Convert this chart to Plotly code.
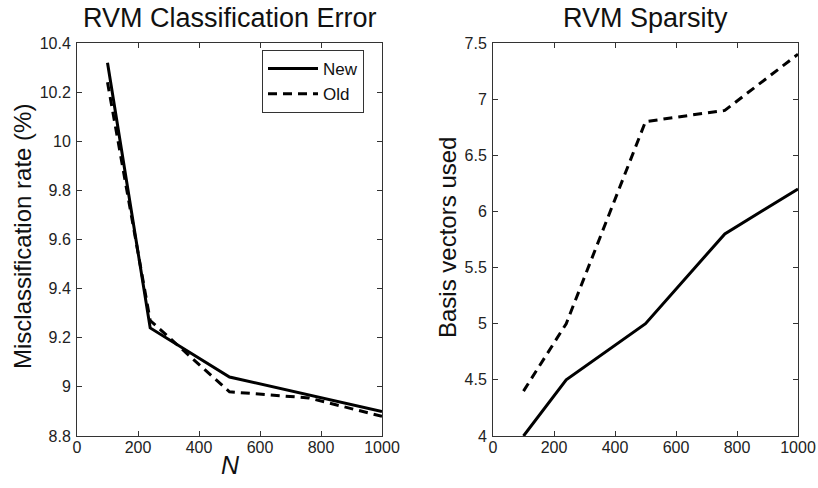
import plotly.graph_objects as go

N = [100, 240, 500, 760, 1000]
err_new = [10.32, 9.24, 9.04, 8.967, 8.90]
err_old = [10.24, 9.27, 8.98, 8.955, 8.88]
bv_new = [4.0, 4.5, 5.0, 5.8, 6.2]
bv_old = [4.4, 5.0, 6.8, 6.9, 7.4]

W, H = 818, 488
font = 'Arial, "Liberation Sans", sans-serif'

fig = go.Figure()
solid = dict(color="black", width=3)
dashed = dict(color="black", width=3, dash="9px,6px")

fig.add_trace(go.Scatter(x=N, y=err_new, mode="lines", line=solid, name="New", xaxis="x", yaxis="y"))
fig.add_trace(go.Scatter(x=N, y=err_old, mode="lines", line=dashed, name="Old", xaxis="x", yaxis="y"))
fig.add_trace(go.Scatter(x=N, y=bv_new, mode="lines", line=solid, showlegend=False, xaxis="x2", yaxis="y2"))
fig.add_trace(go.Scatter(x=N, y=bv_old, mode="lines", line=dashed, showlegend=False, xaxis="x2", yaxis="y2"))

ax_common = dict(
    showline=True, linecolor="#333", linewidth=1, mirror="ticks",
    ticks="inside", ticklen=5, tickcolor="#333", showgrid=False, zeroline=False,
    automargin=False,
    tickfont=dict(family=font, size=16, color="#222"),
)
ydom = [1 - 436 / H, 1 - 43 / H]
fig.update_layout(
    width=W, height=H, margin=dict(l=0, r=0, t=0, b=0, autoexpand=False),
    paper_bgcolor="white", plot_bgcolor="white",
    font=dict(family=font, color="#111"),
    xaxis=dict(domain=[77 / W, 382 / W], range=[0, 1000], tickvals=[0, 200, 400, 600, 800, 1000],
               anchor="y", ticklabelstandoff=-3, **ax_common),
    yaxis=dict(domain=ydom, range=[8.8, 10.4], tickvals=[8.8, 9, 9.2, 9.4, 9.6, 9.8, 10, 10.2, 10.4],
               ticktext=["8.8", "9", "9.2", "9.4", "9.6", "9.8", "10", "10.2", "10.4"],
               anchor="x", ticklabelstandoff=2, **ax_common),
    xaxis2=dict(domain=[493 / W, 798 / W], range=[0, 1000], tickvals=[0, 200, 400, 600, 800, 1000],
                anchor="y2", ticklabelstandoff=-3, **ax_common),
    yaxis2=dict(domain=ydom, range=[4, 7.5], tickvals=[4, 4.5, 5, 5.5, 6, 6.5, 7, 7.5],
                ticktext=["4", "4.5", "5", "5.5", "6", "6.5", "7", "7.5"],
                anchor="x2", ticklabelstandoff=2, **ax_common),
    legend=dict(x=262 / W, y=1 - 50 / H, xanchor="left", yanchor="top",
                bordercolor="#333", borderwidth=1, bgcolor="white", itemwidth=50,
                font=dict(family=font, size=17, color="#111"), tracegroupgap=0),
    annotations=[
        dict(text="RVM Classification Error", x=(77 + 382) / 2 / W, y=1 - 18 / H, xref="paper", yref="paper",
             showarrow=False, font=dict(family=font, size=27, color="#111"), xanchor="center", yanchor="middle"),
        dict(text="RVM Sparsity", x=(493 + 798) / 2 / W, y=1 - 18 / H, xref="paper", yref="paper",
             showarrow=False, font=dict(family=font, size=27, color="#111"), xanchor="center", yanchor="middle"),
        dict(text="Misclassification rate (%)", x=23 / W, y=1 - 237 / H, xref="paper", yref="paper",
             textangle=-90, showarrow=False, font=dict(family=font, size=24, color="#111"),
             xanchor="center", yanchor="middle"),
        dict(text="Basis vectors used", x=448 / W, y=1 - 238 / H, xref="paper", yref="paper",
             textangle=-90, showarrow=False, font=dict(family=font, size=24, color="#111"),
             xanchor="center", yanchor="middle"),
        dict(text="<i>N</i>", x=230 / W, y=1 - 465 / H, xref="paper", yref="paper",
             showarrow=False, font=dict(family=font, size=25, color="#111"),
             xanchor="center", yanchor="middle"),
    ],
)

fig.write_html("out.html", config={"displayModeBar": False},
               post_script="document.body.style.margin='0';document.body.style.overflow='hidden';")
